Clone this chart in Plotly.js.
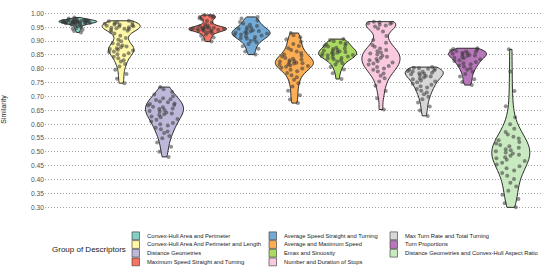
<!DOCTYPE html>
<html>
<head>
<meta charset="utf-8">
<script src="https://cdn.plot.ly/plotly-3.0.1.min.js"></script>
<style>html,body{margin:0;padding:0;background:#fff;}#chart{width:550px;height:274px;}</style>
</head>
<body>
<div id="chart"></div>
<script>
var categories = [
  "Convex-Hull Area and Perimeter",
  "Convex-Hull Area And Perimeter and Length",
  "Distance Geometries",
  "Maximum Speed Straight and Turning",
  "Average Speed Straight and Turning",
  "Average and Maximum Speed",
  "Emax and Sinuosity",
  "Number and Duration of Stops",
  "Max Turn Rate and Total Turning",
  "Turn Proportions",
  "Distance Geometries and Convex-Hull Aspect Ratio"
];
var colors = ["#86CFC2","#FFF8A8","#BDB8D9","#F47565","#73ABD6","#FCAE55","#ACD962","#F9C9E0","#D7D7D7","#B977BB","#C9E9C1"];

var convexHullAreaPerimeter = [0.985,0.981,0.979,0.978,0.977,0.977,0.976,0.975,0.975,0.974,0.974,0.973,0.973,0.972,0.972,0.972,0.971,0.971,0.970,0.970,0.969,0.969,0.969,0.968,0.968,0.967,0.967,0.966,0.966,0.965,0.964,0.964,0.963,0.962,0.961,0.959,0.958,0.956,0.953,0.950,0.947,0.944,0.941,0.936,0.931];
var convexHullAreaPerimeterLength = [0.973,0.971,0.968,0.966,0.965,0.962,0.960,0.959,0.957,0.955,0.953,0.952,0.950,0.948,0.946,0.944,0.943,0.940,0.937,0.933,0.927,0.919,0.911,0.905,0.899,0.892,0.888,0.884,0.880,0.878,0.874,0.871,0.869,0.866,0.862,0.860,0.856,0.852,0.849,0.843,0.838,0.831,0.826,0.817,0.808,0.796,0.781,0.764,0.748];
var distanceGeometries = [0.734,0.726,0.716,0.707,0.701,0.694,0.690,0.687,0.682,0.679,0.675,0.673,0.669,0.667,0.663,0.661,0.657,0.655,0.651,0.648,0.646,0.642,0.639,0.636,0.633,0.628,0.625,0.619,0.616,0.610,0.604,0.600,0.595,0.587,0.582,0.574,0.568,0.557,0.549,0.534,0.519,0.501,0.482];
var maxSpeedStraightTurning = [0.994,0.991,0.989,0.987,0.985,0.982,0.978,0.972,0.966,0.960,0.956,0.953,0.951,0.949,0.948,0.947,0.946,0.945,0.945,0.944,0.943,0.942,0.941,0.940,0.939,0.938,0.936,0.934,0.931,0.928,0.924,0.919,0.913,0.906,0.898];
var avgSpeedStraightTurning = [0.987,0.981,0.974,0.969,0.963,0.959,0.954,0.950,0.948,0.944,0.941,0.939,0.936,0.934,0.932,0.930,0.928,0.927,0.924,0.922,0.920,0.917,0.915,0.911,0.908,0.905,0.900,0.896,0.889,0.881,0.872,0.862,0.851];
var avgMaxSpeed = [0.929,0.921,0.914,0.906,0.897,0.889,0.882,0.874,0.868,0.862,0.857,0.851,0.847,0.844,0.839,0.836,0.833,0.831,0.828,0.826,0.824,0.822,0.820,0.819,0.816,0.814,0.812,0.810,0.807,0.804,0.801,0.796,0.791,0.785,0.777,0.769,0.760,0.748,0.736,0.721,0.704,0.689,0.676];
var emaxSinuosity = [0.907,0.904,0.899,0.895,0.892,0.888,0.885,0.882,0.880,0.876,0.873,0.871,0.868,0.866,0.864,0.862,0.860,0.858,0.857,0.854,0.852,0.850,0.849,0.846,0.844,0.842,0.839,0.837,0.834,0.830,0.826,0.820,0.815,0.806,0.797,0.784,0.763];
var stopsNumberDuration = [0.970,0.968,0.966,0.964,0.962,0.959,0.956,0.952,0.945,0.934,0.918,0.904,0.894,0.886,0.879,0.873,0.868,0.863,0.859,0.855,0.851,0.847,0.843,0.839,0.835,0.831,0.827,0.823,0.819,0.815,0.810,0.806,0.801,0.796,0.790,0.783,0.775,0.766,0.754,0.739,0.720,0.694,0.653];
var maxTurnRateTotalTurning = [0.806,0.804,0.802,0.800,0.799,0.796,0.794,0.792,0.790,0.789,0.786,0.784,0.782,0.780,0.777,0.774,0.772,0.768,0.765,0.762,0.758,0.754,0.751,0.746,0.742,0.737,0.732,0.727,0.721,0.714,0.708,0.699,0.690,0.678,0.664,0.649,0.630];
var turnProportions = [0.874,0.871,0.869,0.866,0.864,0.862,0.860,0.858,0.857,0.854,0.852,0.850,0.848,0.846,0.843,0.840,0.838,0.834,0.831,0.828,0.824,0.820,0.816,0.812,0.807,0.802,0.796,0.789,0.781,0.772,0.762,0.752,0.741];
var distGeomAspectRatio = [0.870,0.790,0.720,0.665,0.625,0.600,0.584,0.572,0.563,0.555,0.548,0.542,0.536,0.530,0.525,0.520,0.515,0.510,0.506,0.502,0.498,0.494,0.490,0.486,0.481,0.477,0.472,0.467,0.461,0.455,0.448,0.441,0.433,0.424,0.414,0.402,0.389,0.375,0.360,0.345,0.330,0.315,0.300];

var series = [convexHullAreaPerimeter, convexHullAreaPerimeterLength, distanceGeometries, maxSpeedStraightTurning,
  avgSpeedStraightTurning, avgMaxSpeed, emaxSinuosity, stopsNumberDuration, maxTurnRateTotalTurning, turnProportions, distGeomAspectRatio];

var yTicks = [0.30,0.35,0.40,0.45,0.50,0.55,0.60,0.65,0.70,0.75,0.80,0.85,0.90,0.95,1.00];

// kernel bandwidths (styling of the density estimate)
var bandwidths = [0.0045, 0.014, 0.025, 0.007, 0.012, 0.02, 0.011, 0.019, 0.016, 0.012, 0.04];

var traces = series.map(function(vals, i){
  return {
    type: 'violin',
    name: categories[i],
    x: vals.map(function(){ return categories[i]; }),
    y: vals,
    width: 0.88,
    bandwidth: bandwidths[i],
    spanmode: 'hard',
    scalemode: 'width',
    fillcolor: colors[i],
    line: {color: '#1a1a1a', width: 0.9},
    points: 'all',
    pointpos: 0,
    jitter: 0.95,
    marker: {color: 'rgba(55,55,55,0.55)', size: 4, line: {width: 0}},
    box: {visible: false},
    meanline: {visible: false},
    showlegend: false
  };
});

// manual legend (column-major, 4 rows)
var L = 45, R = 542, T = 5, B = 214;
function px(x){ return (x - L) / (R - L); }
function py(y){ return (B - y) / (B - T); }
var colX = [132, 269, 390];
var rowY = [235.8, 244.5, 253.2, 261.9];
var shapes = [], annotations = [];
categories.forEach(function(c, i){
  var col = Math.floor(i / 4), row = i % 4;
  var x0 = colX[col], yc = rowY[row];
  shapes.push({type:'rect', xref:'paper', yref:'paper', x0:px(x0), x1:px(x0+7.5), y0:py(yc+3.9), y1:py(yc-3.9),
    fillcolor: colors[i], line:{color:'#333', width:0.6}, layer:'above'});
  annotations.push({xref:'paper', yref:'paper', x:px(x0+12.5), y:py(yc), xanchor:'left', yanchor:'middle',
    text:c, showarrow:false, font:{family:'Liberation Sans, Arial, sans-serif', size:5.8, color:'#1a1a1a'}});
});
annotations.push({xref:'paper', yref:'paper', x:px(50), y:py(249), xanchor:'left', yanchor:'middle',
  text:'Group of Descriptors', showarrow:false, font:{family:'Liberation Sans, Arial, sans-serif', size:8.0, color:'#1a1a1a'}});

var layout = {
  width: 550, height: 274,
  margin: {l: L, r: 550 - R, t: T, b: 274 - B, pad: 0},
  paper_bgcolor: '#fff', plot_bgcolor: '#fff',
  violinmode: 'overlay',
  showlegend: false,
  font: {family: 'Liberation Sans, Arial, sans-serif'},
  xaxis: {type: 'category', categoryorder: 'array', categoryarray: categories, range: [-0.76, 10.72],
    showticklabels: false, showgrid: false, zeroline: false, showline: false, ticks: ''},
  yaxis: {range: [0.276, 1.03], tickvals: yTicks, tickformat: '.2f', showline: false, zeroline: false,
    ticks: '', showgrid: true, gridcolor: '#8c8c8c', gridwidth: 0.8, griddash: '1px,2px',
    tickfont: {size: 6.7, color: '#555'},
    title: {text: 'Similarity', font: {size: 7, color: '#1a1a1a'}, standoff: 30}, automargin: false},
  shapes: shapes,
  annotations: annotations
};
Plotly.newPlot('chart', traces, layout, {displayModeBar: false, staticPlot: true});
</script>
</body>
</html>
